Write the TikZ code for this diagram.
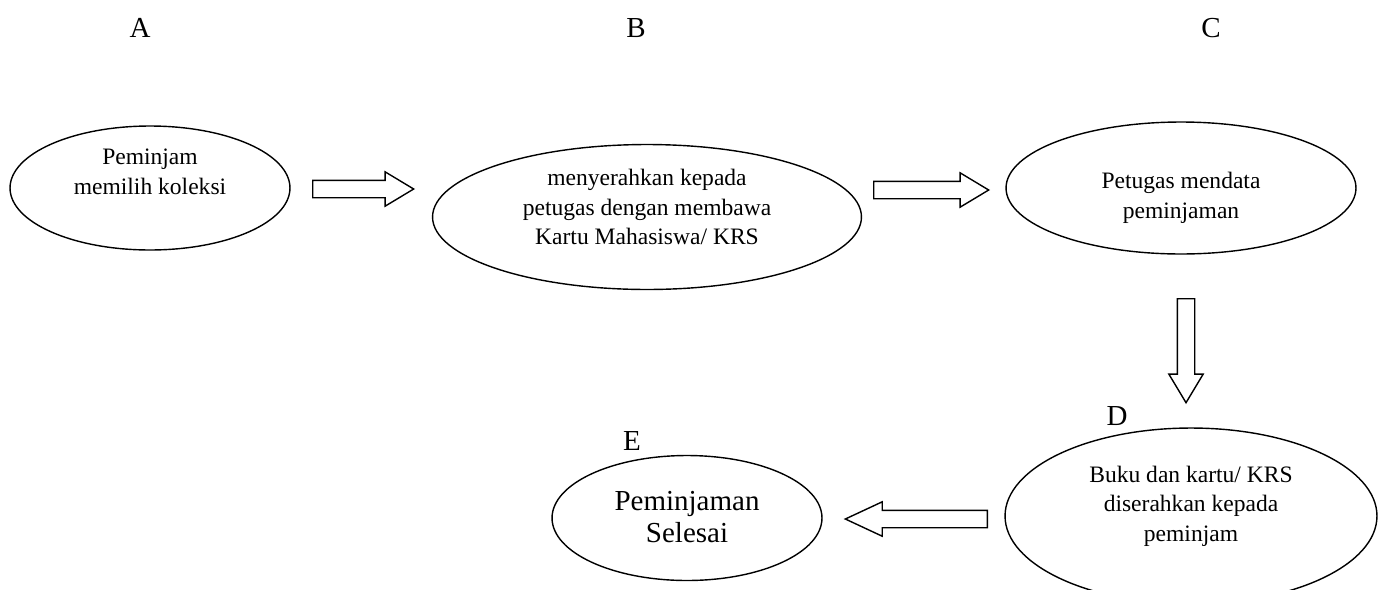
\documentclass[tikz,border=0pt]{standalone}
\usepackage{fontspec}
\setmainfont{Liberation Serif}
\usepackage{tikz}
\usetikzlibrary{shapes.geometric}
\usetikzlibrary{shapes.arrows}
\usetikzlibrary{positioning}
\tikzset{step node/.style={ellipse,draw,line width=0.8pt,inner sep=0pt},
         step text/.style={align=center,inner sep=0pt,font=\fontsize{13.4}{16.8}\selectfont},
         fat arrow/.style={single arrow,draw,line width=0.8pt,inner xsep=0pt,inner ysep=0.16cm,anchor=tail,
            single arrow head extend=0.17cm,single arrow tip angle=62,single arrow head indent=0pt},
         letter/.style={font=\fontsize{16.5}{18}\selectfont},
            }

\begin{document}
\begin{tikzpicture}[x=0.02cm,y=-0.02cm]
        \useasboundingbox (0,0) rectangle (1385,589);
        \node[step node,minimum width=5.6cm,minimum height=2.48cm] (A) at (150,188) {};
        \node[step node,minimum width=8.58cm,minimum height=2.9cm] (B) at (647,217) {};
        \node[step node,minimum width=7cm,minimum height=2.64cm] (C) at (1181,188) {};
        \node[step node,minimum width=7.44cm,minimum height=3.52cm] (D) at (1191,516) {};
        \node[step node,minimum width=5.4cm,minimum height=2.5cm] (E) at (687,518) {};

        \node[step text] (ta) at ([yshift=0.32cm]A.center) {Peminjam\\memilih koleksi};
        \node[step text] (tb) at ([yshift=0.2cm]B.center) {menyerahkan kepada\\petugas dengan membawa\\Kartu Mahasiswa/ KRS};
        \node[step text] (tc) at ([yshift=-0.2cm]C.center) {Petugas mendata\\peminjaman};
        \node[step text] (td) at ([yshift=0.2cm]D.center) {Buku dan kartu/ KRS\\diserahkan kepada\\peminjam};
        \node[step text,font=\fontsize{16.5}{18.2}\selectfont] (te) at ([yshift=0.02cm]E.center) {Peminjaman\\Selesai};

        % labels
        \node[letter] (la) at (140,28) {A};
        \node[letter] (lb) at (636,28) {B};
        \node[letter] (lc) at (1211,28) {C};
        \node[letter] (ld) at (1117,416) {D};
        \node[letter] (le) at (632,441) {E};

        % block arrows
        \node[fat arrow,minimum height=2.02cm] (ab) at (312,189) {};
        \node[fat arrow,minimum height=2.3cm] (bc) at (873,190) {};
        \node[fat arrow,minimum height=2.08cm,rotate=-90] (cd) at (1186,298) {};
        \node[fat arrow,minimum height=2.84cm,rotate=180,single arrow tip angle=50] (de) at (988,519) {};
      \end{tikzpicture}
\end{document}
